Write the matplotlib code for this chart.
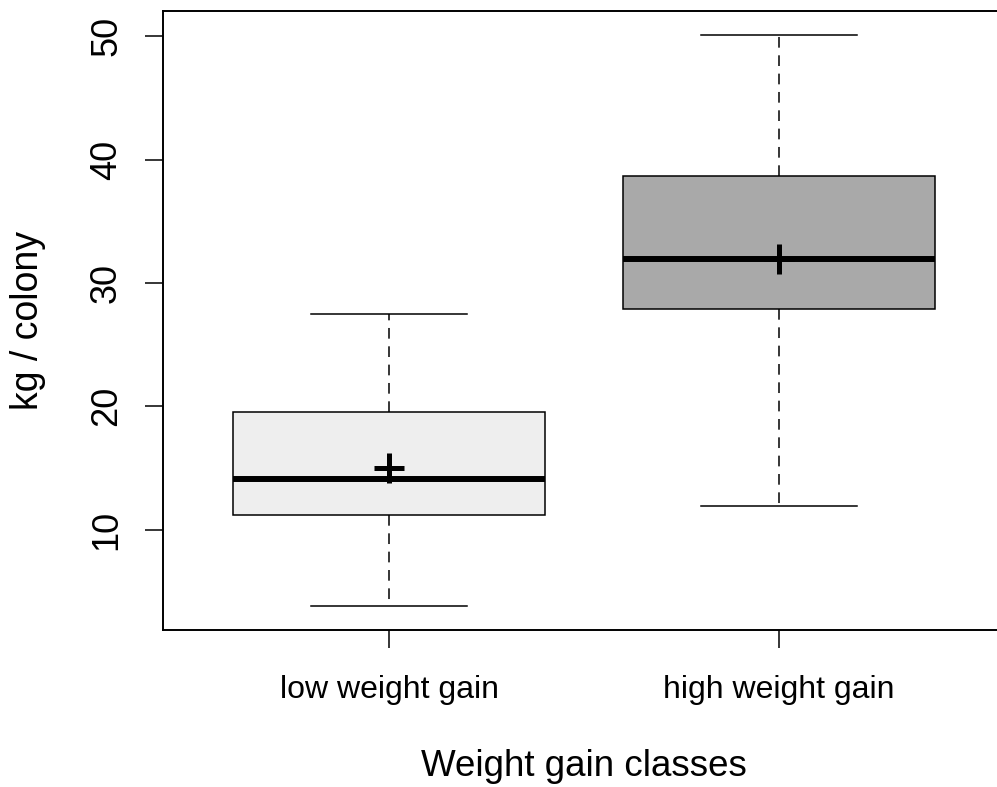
import matplotlib
matplotlib.use("Agg")
import matplotlib.pyplot as plt

categories = ["low weight gain", "high weight gain"]
whislo = [3.8, 11.9]
q1 = [11.2, 27.9]
med = [14.1, 31.9]
q3 = [19.5, 38.7]
whishi = [27.5, 50.1]
means = [15.0, 31.9]
fills = ["#EEEEEE", "#A9A9A9"]
yticks = [10, 20, 30, 40, 50]

plt.rcParams['font.family'] = ['Liberation Sans', 'DejaVu Sans']

fig = plt.figure(figsize=(9.97, 7.87), dpi=100)
ax = fig.add_axes([163/997, 1-630/787, 2.16*390/997, (630-11)/787])

stats = []
for i in range(len(categories)):
    stats.append(dict(label=categories[i], whislo=whislo[i], q1=q1[i], med=med[i],
                      q3=q3[i], whishi=whishi[i], mean=means[i], fliers=[]))

bp = ax.bxp(stats, positions=[1, 2], widths=0.8, patch_artist=True, showmeans=True,
            boxprops=dict(linewidth=1.1, edgecolor='black'),
            medianprops=dict(linewidth=4.3, color='black', solid_capstyle='butt'),
            whiskerprops=dict(linewidth=1.1, color='black', linestyle=(0, (7, 5))),
            capprops=dict(linewidth=1.1, color='black'),
            meanprops=dict(marker='+', markersize=21, markeredgewidth=3.6,
                           markeredgecolor='black'))
for patch, c in zip(bp['boxes'], fills):
    patch.set_facecolor(c)

ax.set_xlim(0.42, 2.58)
ax.set_ylim(1.85, 52.05)
ax.set_yticks(yticks)
ax.set_yticklabels([str(v) for v in yticks], rotation=90, va='center')
ax.set_xticks([1, 2])
ax.set_xticklabels(categories)
ax.tick_params(axis='y', length=13, width=1.1, labelsize=26, pad=15)
ax.tick_params(axis='x', length=13, width=1.1, labelsize=23, pad=19.5)
for s in ax.spines.values():
    s.set_linewidth(1.4)

ax.set_ylabel("kg / colony", fontsize=27, va='center')
ax.yaxis.set_label_coords(-0.160, 0.5)
ax.set_xlabel("Weight gain classes", fontsize=26.5, va='center')
ax.xaxis.set_label_coords(0.5, -0.221)

fig.savefig("out.png", dpi=100)
